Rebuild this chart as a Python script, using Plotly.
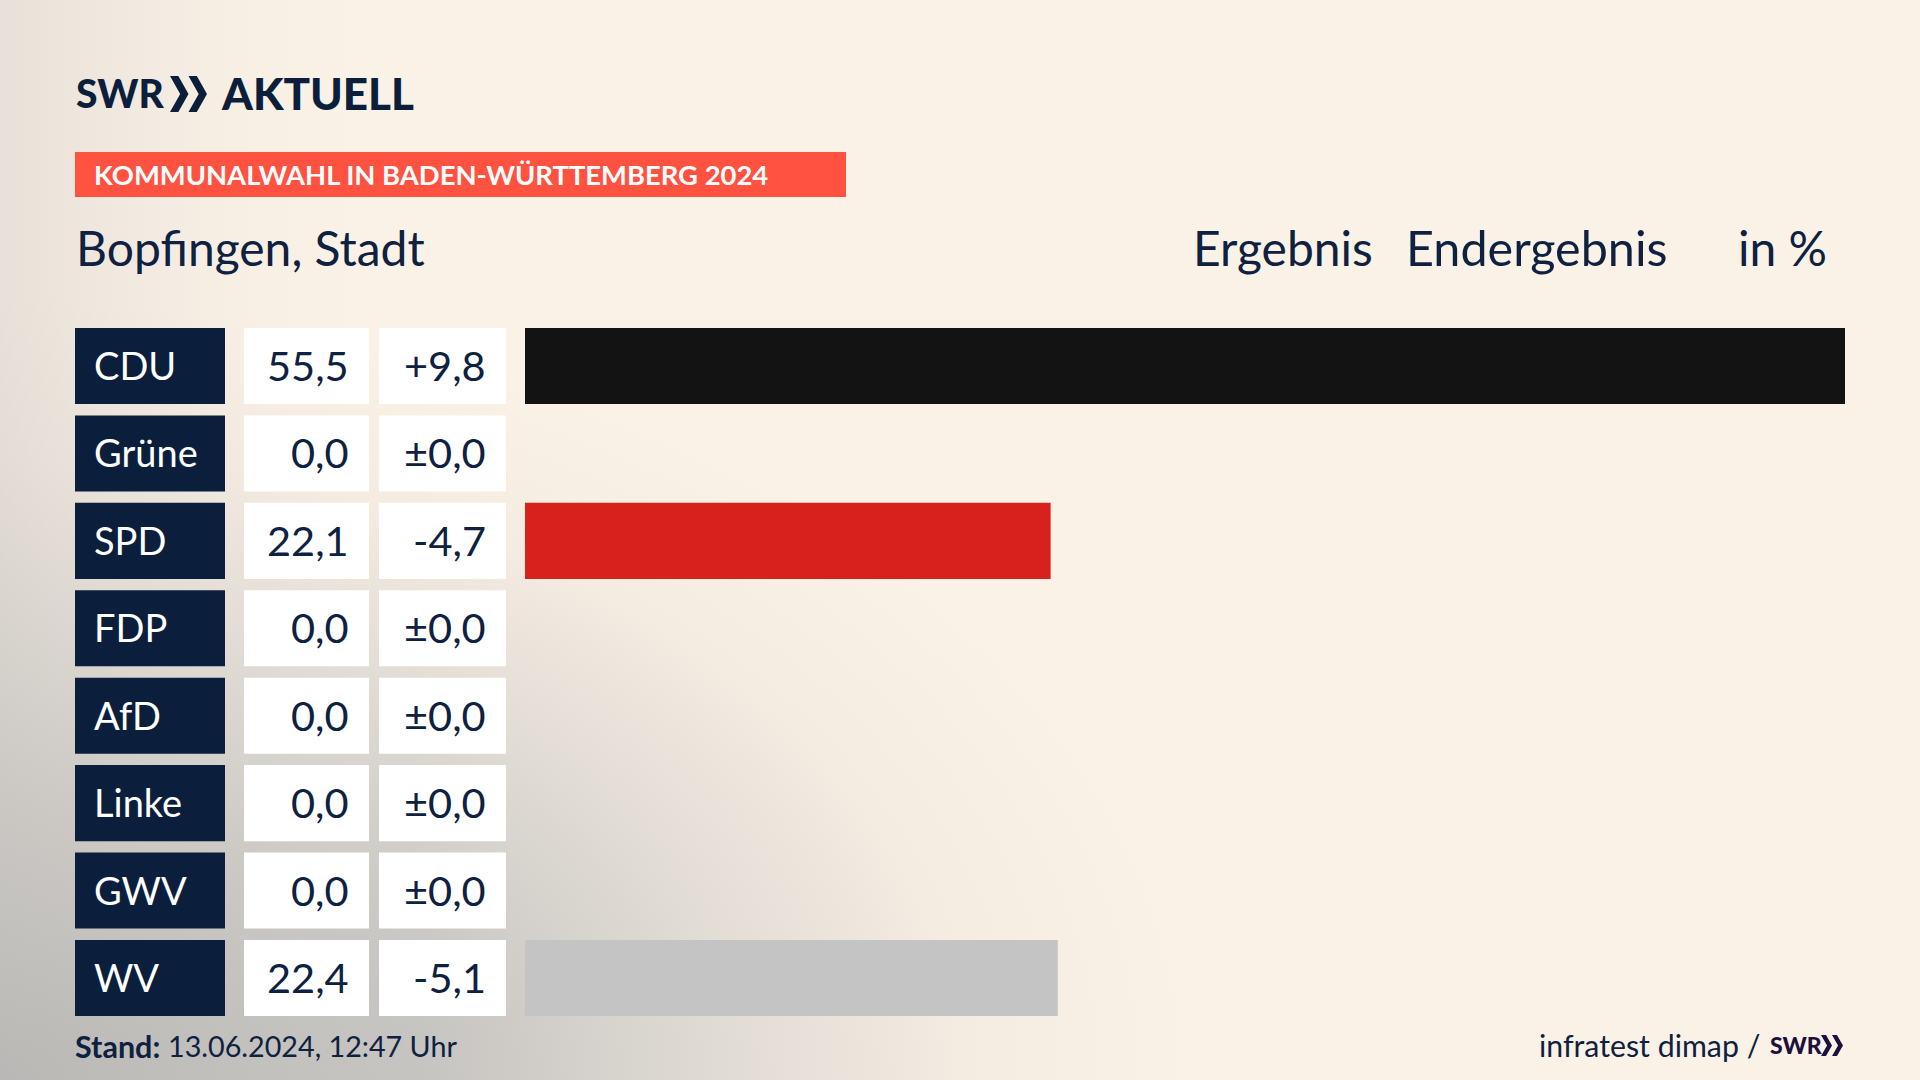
import base64
import plotly.graph_objects as go

# Data
parties = ['CDU', 'Grüne', 'SPD', 'FDP', 'AfD', 'Linke', 'GWV', 'WV']
results = [55.5, 0.0, 22.1, 0.0, 0.0, 0.0, 0.0, 22.4]
changes = ['+9,8', '±0,0', '-4,7', '±0,0', '±0,0', '±0,0', '±0,0', '-5,1']
bar_colors = ['#131313', '#18a02f', '#d8201c', '#ffd500', '#009ee0', '#c2185b', '#888888', '#c4c4c4']

W, H = 1920, 1080
NAVY = '#0b1f3d'
TEXT = '#0e2140'
CREAM = '#fbf2e7'
FONT = 'Lato'


def px(x):
    return x / W


def py(y):
    return 1 - y / H


# soft grey glow in the lower left corner of the background
svg = f'''<svg xmlns="http://www.w3.org/2000/svg" width="{W}" height="{H}">
<defs>
<radialGradient id="a" gradientUnits="userSpaceOnUse" cx="0" cy="0" r="1"
 gradientTransform="translate(0 1080) scale(1200 780)">
<stop offset="0" stop-color="#a8a8a8"/>
<stop offset="0.35" stop-color="#c6c4c1"/>
<stop offset="0.6" stop-color="#e0dbd4"/>
<stop offset="0.8" stop-color="#f4ebe1"/>
<stop offset="1" stop-color="{CREAM}"/>
</radialGradient>
<linearGradient id="b" x1="0" x2="1" y1="0" y2="0">
<stop offset="0" stop-color="#cfcbc6" stop-opacity="0.45"/>
<stop offset="0.22" stop-color="{CREAM}" stop-opacity="0"/>
</linearGradient>
</defs>
<rect width="{W}" height="{H}" fill="url(#a)"/>
<rect width="{W}" height="{H}" fill="url(#b)"/>
</svg>'''
bg_uri = 'data:image/svg+xml;base64,' + base64.b64encode(svg.encode()).decode()

fig = go.Figure(go.Bar(
    x=results, y=parties, orientation='h', width=0.87,
    marker=dict(color=bar_colors, line_width=0),
    hoverinfo='skip',
))

shapes = []
annotations = []


def add_text(x, y, text, size, color=TEXT, anchor='left', yref='paper', weight=None):
    font = dict(family=FONT, size=size, color=color)
    if weight:
        font['weight'] = weight
    annotations.append(dict(
        x=px(x), y=y if yref != 'paper' else py(y), xref='paper', yref=yref,
        yshift=1 if yref != 'paper' else 0,
        text=text, showarrow=False, xanchor=anchor, yanchor='middle', font=font,
    ))


def add_box(x0, x1, i, color):
    shapes.append(dict(type='rect', xref='paper', yref='y', x0=px(x0), x1=px(x1),
                       y0=i - 0.435, y1=i + 0.435, fillcolor=color, line_width=0,
                       layer='below'))


def add_chevrons(x0, y0, x1, y1, color):
    w = (x1 - x0) / 2
    mid = (y0 + y1) / 2
    for k in range(2):
        a = x0 + k * w
        outline = [(a, y0), (a + w * 0.45, y0), (a + w, mid), (a + w * 0.45, y1), (a, y1), (a + w * 0.55, mid)]
        path = 'M ' + ' L '.join(f'{px(u):.5f} {py(v):.5f}' for u, v in outline) + ' Z'
        shapes.append(dict(type='path', xref='paper', yref='paper', path=path,
                           fillcolor=color, line_width=0))


for i, party in enumerate(parties):
    add_box(75, 225, i, NAVY)
    add_box(244, 369, i, '#ffffff')
    add_box(379, 506, i, '#ffffff')
    add_text(92, party, party, 38, color='#ffffff', yref='y')
    add_text(351, party, f'{results[i]:.1f}'.replace('.', ','), 41.5, anchor='right', yref='y')
    add_text(488, party, changes[i], 41.5, anchor='right', yref='y')

# logo line
add_text(74, 93, 'SWR', 39, color=NAVY, weight=900)
add_chevrons(170, 76, 207, 112, NAVY)
add_text(219, 93, 'AKTUELL', 44, color=NAVY, weight=900)

# red banner
shapes.append(dict(type='rect', xref='paper', yref='paper', x0=px(75), x1=px(846),
                   y0=py(152), y1=py(197), fillcolor='#ff5240', line_width=0))
add_text(92, 175, '<b>KOMMUNALWAHL IN BADEN-WÜRTTEMBERG 2024</b>', 27.4, color='#ffffff')

# header line
add_text(74, 247.5, 'Bopfingen, Stadt', 48)
add_text(1191, 247.5, 'Ergebnis', 48)
add_text(1404, 247.5, 'Endergebnis', 48.5)
add_text(1736, 247.5, 'in %', 48)

# footer
add_text(73, 1046, '<b>Stand:</b>', 30.5)
add_text(166, 1046, '13.06.2024, 12:47 Uhr', 28.7)
add_text(1537, 1045, 'infratest dimap /', 30.3)
add_text(1768, 1045, 'SWR', 23, color='#1e0f3c', weight=900)
add_chevrons(1821, 1035, 1843, 1056, '#1e0f3c')

fig.update_layout(
    width=W, height=H,
    margin=dict(l=0, r=0, t=0, b=0),
    paper_bgcolor=CREAM,
    plot_bgcolor='rgba(0,0,0,0)',
    showlegend=False,
    xaxis=dict(domain=[px(525), px(1845)], range=[0, 55.5], visible=False),
    yaxis=dict(domain=[py(1021.7), py(322.3)], range=[7.5, -0.5], visible=False,
               categoryorder='array', categoryarray=parties),
    shapes=shapes,
    annotations=annotations,
    images=[dict(source=bg_uri, xref='paper', yref='paper', x=0, y=1, sizex=1, sizey=1,
                 xanchor='left', yanchor='top', sizing='stretch', layer='below')],
)

fig.write_html('out.html', config={'displayModeBar': False},
               post_script="document.body.style.margin='0';")
